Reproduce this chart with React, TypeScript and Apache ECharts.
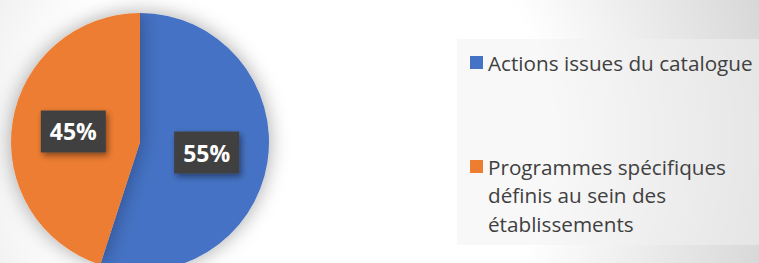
import React, { useEffect, useRef } from "react";
import * as echarts from "echarts";

const categories = [
  "Actions issues du catalogue",
  "Programmes spécifiques définis au sein des établissements",
];
const values = [55, 45];
const colors = ["#4472C4", "#ED7D31"];
const legendLines = [
  ["Actions issues du catalogue"],
  ["Programmes spécifiques", "définis au sein des", "établissements"],
];

export default function App() {
  const ref = useRef<HTMLDivElement>(null);
  useEffect(() => {
    document.body.style.margin = "0";
    const chart = echarts.init(ref.current!, undefined, { renderer: "svg" });
    const legendText = {
      fontFamily: "Open Sans",
      fontSize: 20.7,
      color: "#404040",
      lineHeight: 28.5,
    };
    const mkLegend = (i: number, top: number) => ({
      show: true,
      orient: "vertical",
      left: 470,
      top,
      padding: 0,
      itemWidth: 13,
      itemHeight: 13,
      itemGap: 5,
      icon: "rect",
      selectedMode: false,
      data: [categories[i]],
      textStyle: legendText,
      formatter: (name: string) => {
        const idx = categories.indexOf(name);
        const lines = legendLines[idx];
        // pad with blank lines above so the first line sits beside the marker
        const pad = new Array(lines.length - 1).fill("").join("\n");
        return (lines.length > 1 ? pad + "\n" : "") + lines.join("\n");
      },
    });
    chart.setOption({
      animation: false,
      color: colors,
      graphic: [
        {
          type: "rect",
          z: -10,
          silent: true,
          shape: { x: 0, y: 0, width: 759, height: 263 },
          style: {
            fill: {
              type: "radial",
              x: 300,
              y: 140,
              r: 500,
              global: true,
              colorStops: [
                { offset: 0, color: "#ffffff" },
                { offset: 0.5, color: "#ffffff" },
                { offset: 1, color: "#d4d4d4" },
              ],
            },
          },
        },
        {
          type: "rect",
          z: -9,
          silent: true,
          shape: { x: 457, y: 39, width: 302, height: 206 },
          style: { fill: "rgba(242,242,242,0.5)" },
        },
      ],
      legend: [mkLegend(0, 48.25), mkLegend(1, 95.25)],
      series: [
        {
          type: "pie",
          center: [140, 142],
          radius: 129,
          startAngle: 90,
          clockwise: true,
          data: categories.map((c, i) => ({ name: c, value: values[i] })),
          itemStyle: {
            shadowBlur: 20,
            shadowColor: "rgba(0,0,0,0.35)",
          },
          emphasis: { disabled: true },
          label: {
            show: true,
            position: "inside",
            formatter: "{d}%",
            fontFamily: "Open Sans",
            fontWeight: "bold",
            fontSize: 23,
            color: "#ffffff",
            lineHeight: 26,
            backgroundColor: "#404040",
            padding: [8, 9],
            shadowColor: "rgba(0,0,0,0.45)",
            shadowBlur: 6,
            shadowOffsetX: 2,
            shadowOffsetY: 3,
          },
          labelLine: { show: false },
        },
      ],
    });
    return () => chart.dispose();
  }, []);
  return <div ref={ref} style={{ width: 759, height: 263 }} />;
}
